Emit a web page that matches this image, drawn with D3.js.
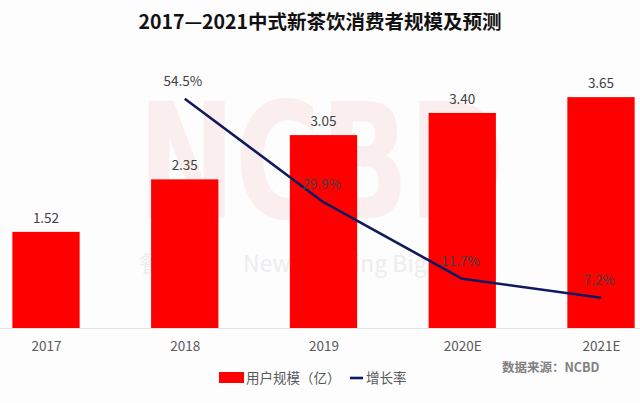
<!DOCTYPE html>
<html><head><meta charset="utf-8">
<script src="https://cdn.jsdelivr.net/npm/d3@7"></script>
<style>
html,body{margin:0;padding:0;background:#fdfdfe;}
svg{display:block;}
</style></head>
<body>
<svg id="c" width="640" height="403"></svg>
<script>
const categories = ["2017", "2018", "2019", "2020E", "2021E"];
const users = [1.52, 2.35, 3.05, 3.40, 3.65];
const growthCats = ["2018", "2019", "2020E", "2021E"];
const growth = [54.5, 29.9, 11.7, 7.2];
const title = "2017—2021中式新茶饮消费者规模及预测";
const legendLabels = ["用户规模（亿）", "增长率"];
const source = "数据来源：NCBD";

const svg = d3.select("#c");
const font = "'Noto Sans CJK SC','Noto Sans',sans-serif";
const red = "#ff0000", navy = "#101a5e";

const plotTop = 75, plotBottom = 328;
const x = d3.scalePoint().domain(categories).range([46, 601]);
const bw = x.step() * 0.485;
const y = d3.scaleLinear().domain([0, 4]).range([plotBottom, plotTop]);
const y2 = d3.scaleLinear().domain([0, 60]).range([plotBottom, plotBottom - 60 * 4.207]);

// faint watermark
const wm = svg.append("g").attr("pointer-events", "none");
wm.append("text").attr("x", 138).attr("y", 218)
  .attr("font-family", "'DejaVu Sans',sans-serif").attr("font-weight", "bold")
  .attr("font-size", 160).attr("fill", "#fbeeee")
  .attr("textLength", 367).attr("lengthAdjust", "spacingAndGlyphs").text("NCBD");
wm.append("text").attr("x", 243).attr("y", 272).attr("font-family", font)
  .attr("font-size", 23).attr("fill", "#ededee").text("New Drinking Big Data");
wm.append("text").attr("x", 139).attr("y", 272).attr("font-family", font)
  .attr("font-size", 23).attr("fill", "#ededee").text("餐饮!");

// title
svg.append("text").attr("x", 320).attr("y", 29).attr("text-anchor", "middle")
  .attr("font-family", font).attr("font-weight", "bold").attr("font-size", 19.5)
  .attr("fill", "#111").text(title);

// baseline
svg.append("line").attr("x1", 0).attr("x2", 640).attr("y1", plotBottom + 0.5).attr("y2", plotBottom + 0.5)
  .attr("stroke", "#e3e3e3").attr("stroke-width", 1);

// bars
svg.append("g").selectAll("rect").data(categories).join("rect")
  .attr("x", d => x(d) - bw / 2).attr("width", bw)
  .attr("y", (d, i) => y(users[i])).attr("height", (d, i) => plotBottom - y(users[i]))
  .attr("fill", red);

svg.append("g").selectAll("text").data(categories).join("text")
  .attr("x", d => x(d)).attr("y", (d, i) => y(users[i]) - 9)
  .attr("text-anchor", "middle").attr("font-family", font).attr("font-size", 13.5)
  .attr("fill", "#404040").text((d, i) => users[i].toFixed(2));

// x axis
const ax = svg.append("g").attr("transform", `translate(0,${plotBottom})`)
  .call(d3.axisBottom(x).tickSize(0).tickPadding(13));
ax.select(".domain").remove();
ax.selectAll("text").attr("font-family", font).attr("font-size", 13.5).attr("fill", "#595959");

// growth line
const line = d3.line().x((d, i) => x(growthCats[i])).y(d => y2(d));
svg.append("path").datum(growth).attr("d", line).attr("fill", "none")
  .attr("stroke", navy).attr("stroke-width", 2.6).attr("stroke-linejoin", "round");

svg.append("g").selectAll("text").data(growth).join("text")
  .attr("x", (d, i) => x(growthCats[i]) - 2).attr("y", d => y2(d) - 13)
  .attr("text-anchor", "middle").attr("font-family", font).attr("font-size", 13.5)
  .attr("fill", "#404040").text(d => d.toFixed(1) + "%");

// legend
const lg = svg.append("g");
lg.append("rect").attr("x", 219).attr("y", 372).attr("width", 25).attr("height", 11).attr("fill", red);
lg.append("text").attr("x", 246).attr("y", 383).attr("font-family", font).attr("font-size", 13.5)
  .attr("fill", "#595959").text(legendLabels[0]);
lg.append("line").attr("x1", 350).attr("x2", 363).attr("y1", 378).attr("y2", 378)
  .attr("stroke", navy).attr("stroke-width", 2.6);
lg.append("text").attr("x", 366).attr("y", 383).attr("font-family", font).attr("font-size", 13.5)
  .attr("fill", "#595959").text(legendLabels[1]);

svg.append("text").attr("x", 502).attr("y", 372).attr("font-family", font).attr("font-weight", "bold")
  .attr("font-size", 12.5).attr("fill", "#808080").text(source);
</script>
</body></html>
